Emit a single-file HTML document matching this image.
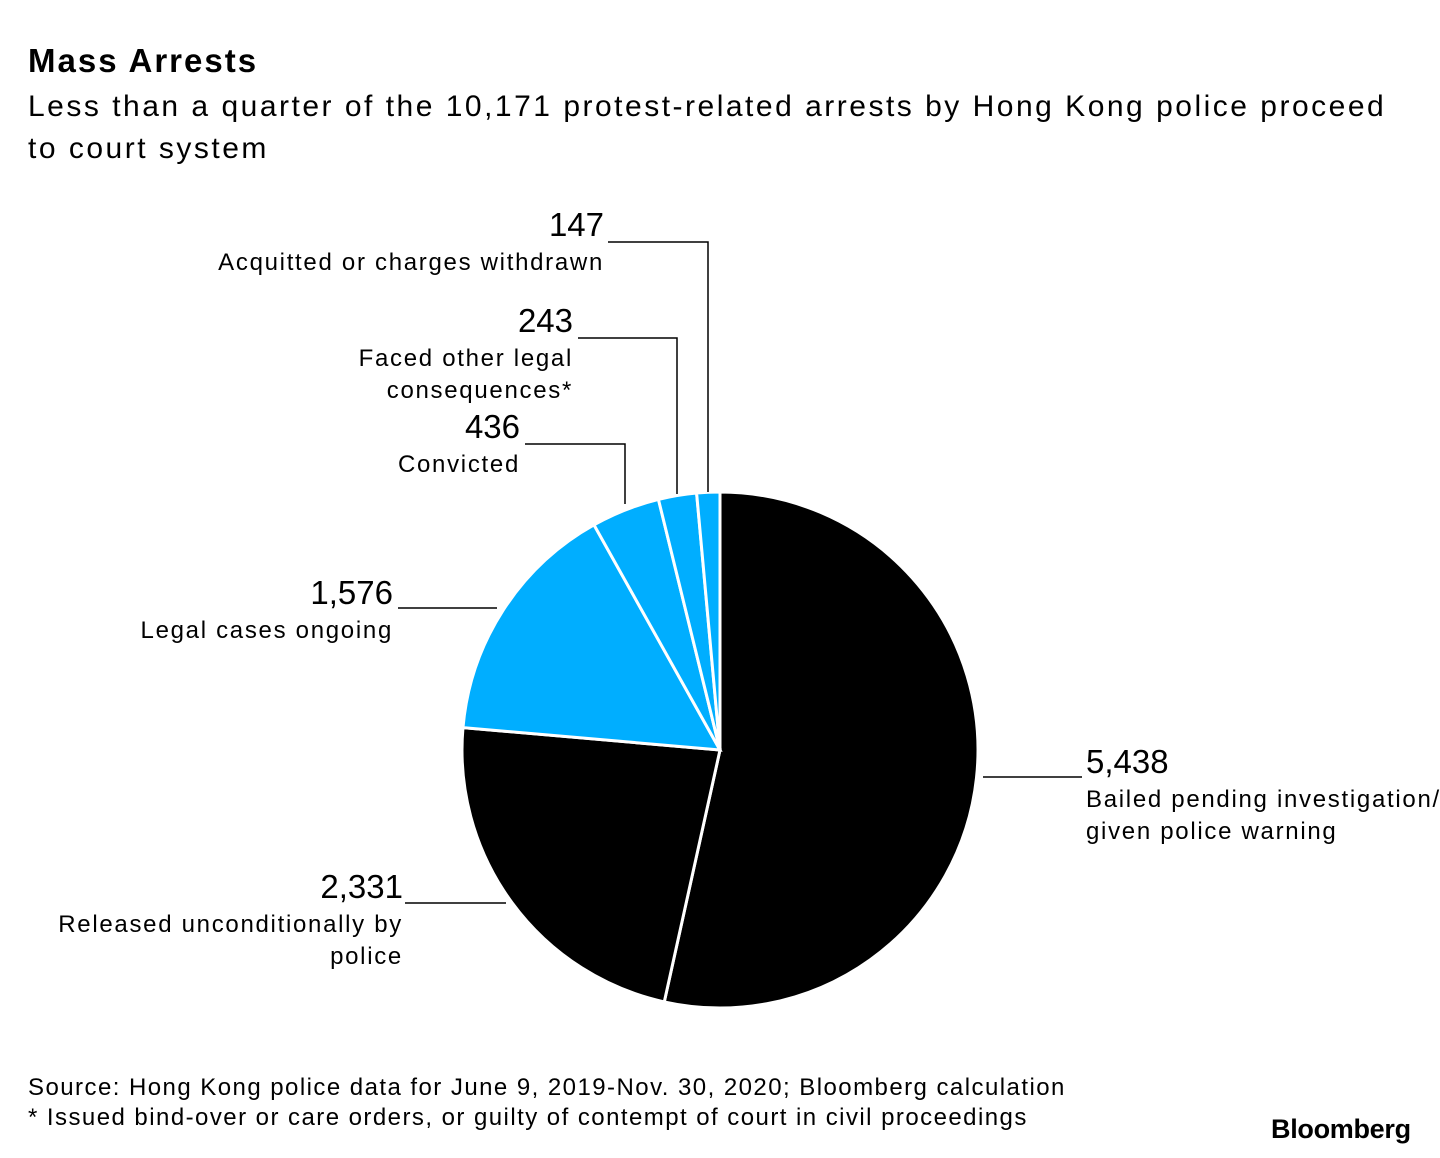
<!DOCTYPE html>
<html><head><meta charset="utf-8"><style>
body{margin:0;background:#fff;font-family:"Liberation Sans",sans-serif;color:#000}
#wrap{position:relative;width:1440px;height:1158px;overflow:hidden}
.t{position:absolute;white-space:nowrap}
</style></head><body>
<div id="wrap">
<div class="t" style="left:28px;top:42px;font-size:33px;font-weight:bold;letter-spacing:2px">Mass Arrests</div>
<div class="t" style="left:28px;top:86px;font-size:30px;line-height:42px;letter-spacing:2.5px">Less than a quarter of the 10,171 protest-related arrests by Hong Kong police proceed<br>to court system</div>
<svg id="pie" width="1440" height="1158" style="position:absolute;left:0;top:0"></svg>
<div class="t" style="left:28px;top:1073px;font-size:24px;line-height:30px;letter-spacing:1.45px">Source: Hong Kong police data for June 9, 2019-Nov. 30, 2020; Bloomberg calculation<br>* Issued bind-over or care orders, or guilty of contempt of court in civil proceedings</div>
<div class="t" style="left:1271px;top:1114px;font-size:27px;font-weight:bold;letter-spacing:-0.3px">Bloomberg</div>
</div>
<script>
const categories=["Bailed pending investigation/|given police warning","Released unconditionally by|police","Legal cases ongoing","Convicted","Faced other legal|consequences*","Acquitted or charges withdrawn"];
const values=[5438,2331,1576,436,243,147];
const colors=["#000","#000","#00aeff","#00aeff","#00aeff","#00aeff"];
const valueLabels=["5,438","2,331","1,576","436","243","147"];
const layout=[
 [1086,773,"start",[[983,777],[1082,777]]],
 [403,898,"end",[[405,903],[506,903]]],
 [393,604,"end",[[398,608],[497,608]]],
 [520,438,"end",[[525,444],[625,444],[625,504]]],
 [573,332,"end",[[578,338],[677,338],[677,494]]],
 [604,236,"end",[[608,242],[708,242],[708,492]]]
];
const svg=document.getElementById('pie');
const NS="http://www.w3.org/2000/svg";
const cx=720,cy=750,r=258;
const total=values.reduce((a,b)=>a+b,0);
function pt(a){return [cx+r*Math.sin(a),cy-r*Math.cos(a)];}
let a0=0;
values.forEach((v,i)=>{
  const a1=a0+v/total*2*Math.PI;
  const p0=pt(a0),p1=pt(a1);
  const large=(a1-a0)>Math.PI?1:0;
  const path=document.createElementNS(NS,'path');
  path.setAttribute('d',`M${cx},${cy}L${p0[0]},${p0[1]}A${r},${r} 0 ${large} 1 ${p1[0]},${p1[1]}Z`);
  path.setAttribute('fill',colors[i]);
  path.setAttribute('stroke','#fff');
  path.setAttribute('stroke-width','3');
  
  
  svg.appendChild(path);
  a0=a1;
});
layout.forEach((L,i)=>{
  const pl=document.createElementNS(NS,'polyline');
  pl.setAttribute('points',L[3].map(p=>p.join(',')).join(' '));
  pl.setAttribute('fill','none');pl.setAttribute('stroke','#000');pl.setAttribute('stroke-width','1.5');
  
  
  svg.appendChild(pl);
  const n=document.createElementNS(NS,'text');
  n.setAttribute('x',L[0]);n.setAttribute('y',L[1]);n.setAttribute('text-anchor',L[2]);
  n.setAttribute('font-size','33');n.setAttribute('font-family','Liberation Sans, sans-serif');
  n.textContent=valueLabels[i];
  
  
  svg.appendChild(n);
  categories[i].split('|').forEach((line,k)=>{
    const t=document.createElementNS(NS,'text');
    t.setAttribute('x',L[0]);t.setAttribute('y',L[1]+34+k*32);t.setAttribute('text-anchor',L[2]);
    t.setAttribute('font-size','24');t.setAttribute('font-family','Liberation Sans, sans-serif');
    t.setAttribute('letter-spacing','1.7');
    t.textContent=line;
    
    
    svg.appendChild(t);
  });
});
</script>
</body></html>
